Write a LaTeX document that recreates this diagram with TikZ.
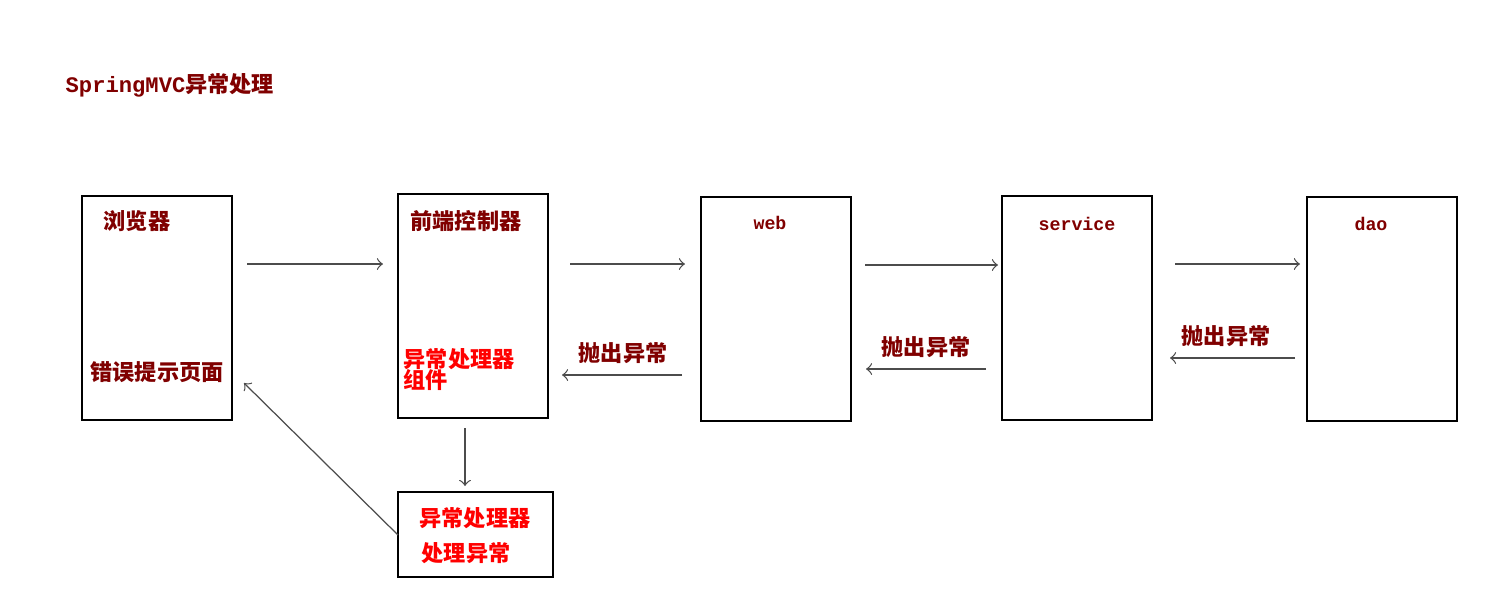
\documentclass[tikz,border=0pt]{standalone}
\usepackage{fontspec}
\newfontfamily\cjk{Noto Sans CJK SC}
\newfontfamily\mono{Liberation Mono}
\definecolor{dred}{HTML}{800000}
\definecolor{bred}{HTML}{FF0000}
\begin{document}
\begin{tikzpicture}[x=0.01cm,y=-0.01cm,
  box/.style={draw,line width=0.5pt,minimum width=150*0.01cm,minimum height=224*0.01cm,inner sep=0},
  arr/.style={->,>=to,line width=0.35pt,draw=black!70},
  lab/.style={font=\cjk\bfseries\fontsize{6.3}{7}\selectfont,text=dred,inner sep=0},
  rlab/.style={font=\cjk\bfseries\fontsize{6.3}{7}\selectfont,text=bred,inner sep=0},
  mlab/.style={font=\mono\bfseries\fontsize{5.2}{6}\selectfont,text=dred,inner sep=0}]
\useasboundingbox (0,0) rectangle (1487,605);
\node[box] (b) at (157,308) {};
\node[box] (f) at (473,306) {};
\node[box] (w) at (776,309) {};
\node[box] (s) at (1077,308) {};
\node[box] (d) at (1382,309) {};
\node[draw,line width=0.5pt,minimum width=155*0.01cm,minimum height=85*0.01cm,inner sep=0] (h) at (475.5,534.5) {};
\node[lab,anchor=west] (title) at (65,85) {{\mono SpringMVC}异常处理};
\node[lab] (t1) at (137,221) {浏览器};
\node[lab] (t2) at (157,372) {错误提示页面};
\node[lab] (t3) at (466,221) {前端控制器};
\node[rlab,anchor=north west,align=left] (t4) at (403,348) {异常处理器\\[-1pt]组件};
\node[mlab] (t5) at (770,223) {web};
\node[mlab] (t6) at (1077,224) {service};
\node[mlab] (t7) at (1371,224) {dao};
\node[lab] (e1) at (623,353) {抛出异常};
\node[lab] (e2) at (926,347) {抛出异常};
\node[lab] (e3) at (1226,336) {抛出异常};
\node[rlab] (h1) at (475,518) {异常处理器};
\node[rlab] (h2) at (466,553) {处理异常};
\coordinate (a1) at (247,264); \coordinate (a2) at (383,264);
\coordinate (a3) at (570,264); \coordinate (a4) at (685,264);
\coordinate (a5) at (865,265); \coordinate (a6) at (998,265);
\coordinate (a7) at (1175,264); \coordinate (a8) at (1300,264);
\draw[arr] (a1) -- (a2);
\draw[arr] (a3) -- (a4);
\draw[arr] (a5) -- (a6);
\draw[arr] (a7) -- (a8);
\coordinate (r1) at (682,375); \coordinate (r2) at (562,375);
\coordinate (r3) at (986,369); \coordinate (r4) at (866,369);
\coordinate (r5) at (1295,358); \coordinate (r6) at (1170,358);
\draw[arr] (r1) -- (r2);
\draw[arr] (r3) -- (r4);
\draw[arr] (r5) -- (r6);
\draw[arr] (465,428) -- (465,486);
\draw[arr] (398,535) -- (244,383);
\end{tikzpicture}
\end{document}
